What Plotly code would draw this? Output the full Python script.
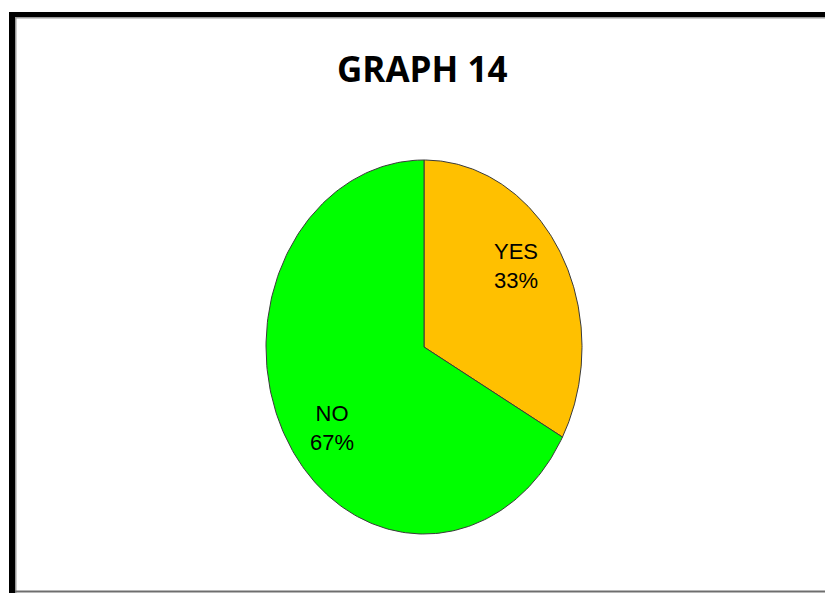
import numpy as np
import plotly.graph_objects as go

# Survey answers
categories = ["YES", "NO"]
values = [33, 67]
colors = ["#FFC000", "#00FF00"]

W, H = 825, 593
CX, CY = 424, 347          # pie centre (pixel units)
RX, RY = 158, 187          # pie radii (stretched pie)
LABEL_FX, LABEL_FY = 0.68, 0.85

fig = go.Figure()

total = sum(values)
cum = 0.0
for cat, val, col in zip(categories, values, colors):
    start = 90 - 360 * cum / total
    end = 90 - 360 * (cum + val) / total
    t = np.radians(np.linspace(start, end, 200))
    xs = np.concatenate([[CX], CX + RX * np.cos(t), [CX]])
    ys = np.concatenate([[CY], CY - RY * np.sin(t), [CY]])
    fig.add_trace(go.Scatter(
        x=xs, y=ys, mode="lines", fill="toself", fillcolor=col,
        line=dict(color="#3a3a3a", width=1), hoverinfo="skip", showlegend=False,
    ))
    mid = np.radians((start + end) / 2)
    pct = round(100 * val / total)
    fig.add_annotation(
        x=CX + LABEL_FX * RX * np.cos(mid), y=CY - LABEL_FY * RY * np.sin(mid),
        text=f"{cat}<br>{pct}%", showarrow=False,
        font=dict(family="Liberation Sans, Arial", size=22, color="black"),
        xanchor="center", yanchor="middle",
    )
    cum += val

# Title
fig.add_annotation(
    x=422, y=68, text="<b>GRAPH 14</b>", showarrow=False,
    font=dict(family="Open Sans, sans-serif", size=35, color="black"),
    xanchor="center", yanchor="middle",
)

# Frame around the chart area
shapes = [
    dict(type="rect", x0=9, x1=W + 5, y0=12, y1=17, fillcolor="black", line_width=0),
    dict(type="rect", x0=9, x1=15, y0=12, y1=H + 5, fillcolor="black", line_width=0),
    dict(type="rect", x0=15, x1=W + 5, y0=17, y1=18.5, fillcolor="#9a9a9a", line_width=0),
    dict(type="rect", x0=15, x1=16.5, y0=17, y1=H + 5, fillcolor="#9a9a9a", line_width=0),
    dict(type="rect", x0=15, x1=W + 5, y0=590.5, y1=592.5, fillcolor="#6e6e6e", line_width=0),
]
for s in shapes:
    s.update(xref="x", yref="y", layer="above")

fig.update_layout(
    width=W, height=H, margin=dict(l=0, r=0, t=0, b=0),
    paper_bgcolor="white", plot_bgcolor="white", shapes=shapes,
    xaxis=dict(range=[0, W], visible=False, fixedrange=True),
    yaxis=dict(range=[H, 0], visible=False, fixedrange=True),
)

fig.write_html("out.html")
